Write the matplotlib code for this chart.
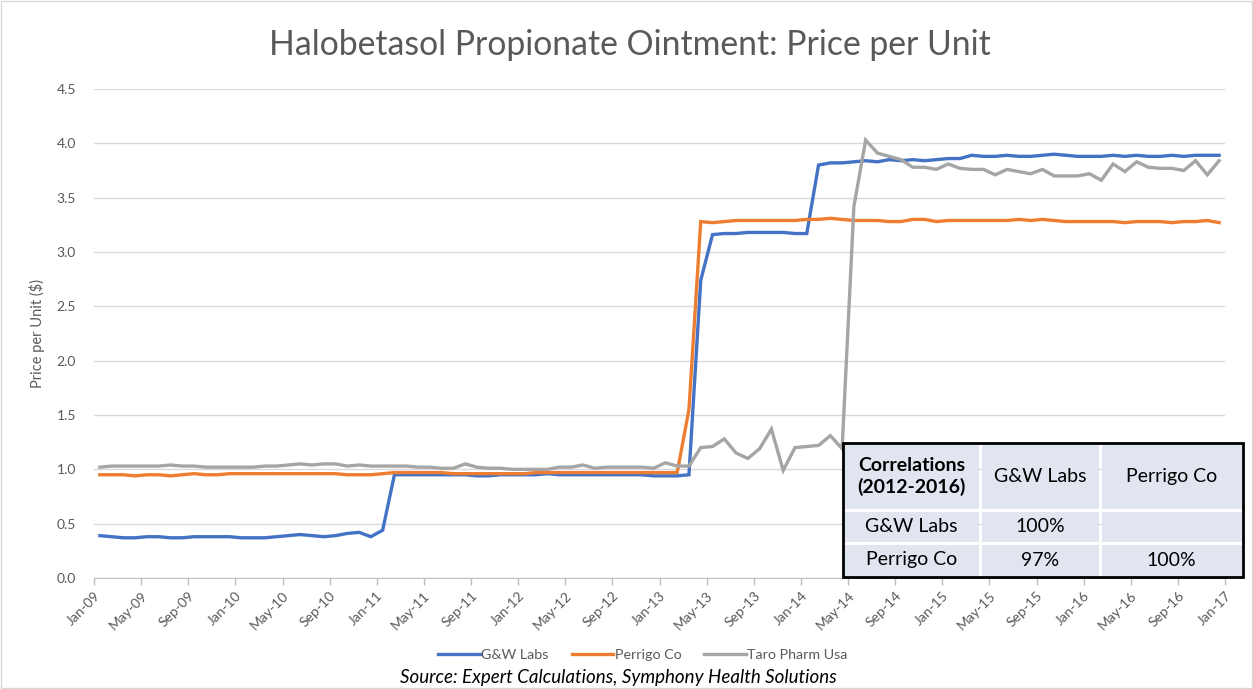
import matplotlib
matplotlib.use("Agg")
import matplotlib.pyplot as plt
from matplotlib.patches import Rectangle

# monthly series, Jan-09 .. Dec-16
gw_labs = [0.39, 0.38, 0.37, 0.37, 0.38, 0.38, 0.37, 0.37, 0.38, 0.38, 0.38, 0.38,
           0.37, 0.37, 0.37, 0.38, 0.39, 0.40, 0.39, 0.38, 0.39, 0.41, 0.42, 0.38,
           0.44, 0.95, 0.95, 0.95, 0.95, 0.95, 0.95, 0.95, 0.94, 0.94, 0.95, 0.95,
           0.95, 0.95, 0.96, 0.95, 0.95, 0.95, 0.95, 0.95, 0.95, 0.95, 0.95, 0.94,
           0.94, 0.94, 0.95, 2.74, 3.16, 3.17, 3.17, 3.18, 3.18, 3.18, 3.18, 3.17,
           3.17, 3.80, 3.82, 3.82, 3.83, 3.84, 3.83, 3.85, 3.84, 3.85, 3.84, 3.85,
           3.86, 3.86, 3.89, 3.88, 3.88, 3.89, 3.88, 3.88, 3.89, 3.90, 3.89, 3.88,
           3.88, 3.88, 3.89, 3.88, 3.89, 3.88, 3.88, 3.89, 3.88, 3.89, 3.89, 3.89]
perrigo = [0.95, 0.95, 0.95, 0.94, 0.95, 0.95, 0.94, 0.95, 0.96, 0.95, 0.95, 0.96,
           0.96, 0.96, 0.96, 0.96, 0.96, 0.96, 0.96, 0.96, 0.96, 0.95, 0.95, 0.95,
           0.96, 0.97, 0.97, 0.97, 0.97, 0.97, 0.96, 0.96, 0.96, 0.96, 0.96, 0.96,
           0.96, 0.97, 0.97, 0.97, 0.97, 0.97, 0.97, 0.97, 0.97, 0.97, 0.97, 0.97,
           0.97, 0.97, 1.55, 3.28, 3.27, 3.28, 3.29, 3.29, 3.29, 3.29, 3.29, 3.29,
           3.30, 3.30, 3.31, 3.30, 3.29, 3.29, 3.29, 3.28, 3.28, 3.30, 3.30, 3.28,
           3.29, 3.29, 3.29, 3.29, 3.29, 3.29, 3.30, 3.29, 3.30, 3.29, 3.28, 3.28,
           3.28, 3.28, 3.28, 3.27, 3.28, 3.28, 3.28, 3.27, 3.28, 3.28, 3.29, 3.27]
taro = [1.02, 1.03, 1.03, 1.03, 1.03, 1.03, 1.04, 1.03, 1.03, 1.02, 1.02, 1.02,
        1.02, 1.02, 1.03, 1.03, 1.04, 1.05, 1.04, 1.05, 1.05, 1.03, 1.04, 1.03,
        1.03, 1.03, 1.03, 1.02, 1.02, 1.01, 1.01, 1.05, 1.02, 1.01, 1.01, 1.00,
        1.00, 1.00, 1.00, 1.02, 1.02, 1.04, 1.01, 1.02, 1.02, 1.02, 1.02, 1.01,
        1.06, 1.03, 1.03, 1.20, 1.21, 1.28, 1.15, 1.10, 1.19, 1.37, 0.99, 1.20,
        1.21, 1.22, 1.31, 1.19, 3.42, 4.03, 3.91, 3.88, 3.85, 3.78, 3.78, 3.76,
        3.81, 3.77, 3.76, 3.76, 3.71, 3.76, 3.74, 3.72, 3.76, 3.70, 3.70, 3.70,
        3.72, 3.66, 3.81, 3.74, 3.83, 3.78, 3.77, 3.77, 3.75, 3.84, 3.71, 3.84]

tick_labels = ["Jan-09", "May-09", "Sep-09", "Jan-10", "May-10", "Sep-10", "Jan-11",
               "May-11", "Sep-11", "Jan-12", "May-12", "Sep-12", "Jan-13", "May-13",
               "Sep-13", "Jan-14", "May-14", "Sep-14", "Jan-15", "May-15", "Sep-15",
               "Jan-16", "May-16", "Sep-16", "Jan-17"]

series_names = ["G&W Labs", "Perrigo Co", "Taro Pharm Usa"]
series_colors = ["#4472C4", "#ED7D31", "#A5A5A5"]

corr_header = ["Correlations\n(2012-2016)", "G&W Labs", "Perrigo Co"]
corr_rows = [["G&W Labs", "100%", ""],
             ["Perrigo Co", "97%", "100%"]]

plt.rcParams['font.family'] = ['Lato', 'DejaVu Sans']
txt_gray = "#595959"

W, H = 1253, 689
fig = plt.figure(figsize=(W / 100, H / 100), dpi=100)
ax = fig.add_axes([94 / W, 1 - 578 / H, (1225 - 94) / W, (578 - 89) / H])

x = [i + 0.5 for i in range(len(gw_labs))]
for vals, name, col in zip([gw_labs, perrigo, taro], series_names, series_colors):
    ax.plot(x, vals, color=col, lw=2.4, label=name, solid_joinstyle='miter')

ax.set_xlim(0, 96)
ax.set_ylim(0, 4.5)
ax.set_yticks([i * 0.5 for i in range(10)])
ax.set_yticklabels([f"{i * 0.5:.1f}" for i in range(10)])
ax.set_xticks(range(0, 97, 4))
ax.set_xticklabels(tick_labels, rotation=45, ha='right', rotation_mode='anchor')
ax.tick_params(axis='x', colors="#bfbfbf", labelcolor=txt_gray, labelsize=10,
               length=5, width=1, direction='out', pad=3)
ax.tick_params(axis='y', length=0, labelcolor=txt_gray, labelsize=10, pad=13)
ax.grid(axis='y', color="#d9d9d9", lw=1)
ax.set_axisbelow(True)
for s in ['top', 'right', 'left']:
    ax.spines[s].set_visible(False)
ax.spines['bottom'].set_color("#bfbfbf")
ax.set_ylabel("Price per Unit ($)", color=txt_gray, fontsize=10.5, labelpad=8)

fig.text(630 / W, 1 - 45 / H, "Halobetasol Propionate Ointment: Price per Unit",
         ha='center', va='center', fontsize=24.3, color=txt_gray)

leg = fig.legend(loc='center', bbox_to_anchor=(643 / W, 1 - 655 / H), ncol=3,
                 frameon=False, fontsize=10.3, handlelength=2.9, handletextpad=0.1,
                 columnspacing=1.6)
for t in leg.get_texts():
    t.set_color(txt_gray)

fig.text(618 / W, 1 - 677 / H, "Source: Expert Calculations, Symphony Health Solutions",
         ha='center', va='center', fontsize=13.5, style='italic', color='black')

# correlation table, drawn in pixel space
ov = fig.add_axes([0, 0, 1, 1])
ov.set_xlim(0, W)
ov.set_ylim(H, 0)
ov.axis('off')
col_edges = [843, 980, 1100, 1243]
row_edges = [443, 510, 543, 577]
cell_fill = "#e1e5f0"
table = [corr_header] + corr_rows
for r in range(3):
    for c in range(3):
        x0, x1 = col_edges[c], col_edges[c + 1]
        y0, y1 = row_edges[r], row_edges[r + 1]
        ov.add_patch(Rectangle((x0 + 1.5, y0 + 1.5), x1 - x0 - 3, y1 - y0 - 3,
                               facecolor=cell_fill, edgecolor='none'))
        bold = (r == 0 and c == 0)
        ov.text((x0 + x1) / 2, (y0 + y1) / 2, table[r][c], ha='center', va='center',
                fontsize=14, color='black', fontweight='bold' if bold else 'normal',
                linespacing=1.25)
ov.add_patch(Rectangle((col_edges[0], row_edges[0]), col_edges[-1] - col_edges[0],
                       row_edges[-1] - row_edges[0], facecolor='none',
                       edgecolor='black', lw=2))
# chart area border
ov.add_patch(Rectangle((1, 1), W - 2, H - 2, facecolor='none', edgecolor="#d9d9d9", lw=1))

fig.savefig("out.png", dpi=100)
